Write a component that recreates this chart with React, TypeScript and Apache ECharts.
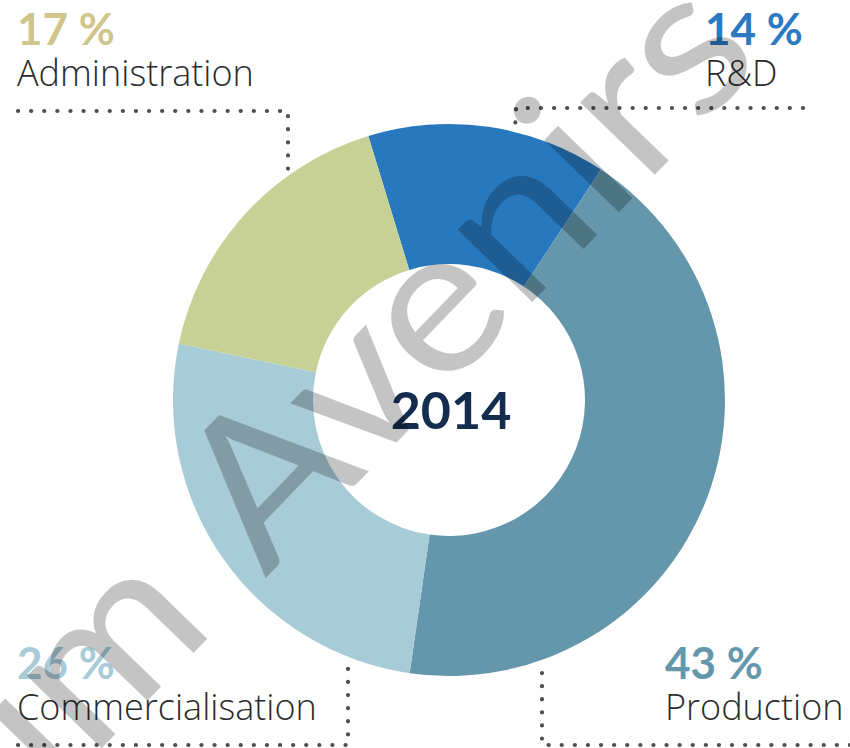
import React, { useEffect, useRef } from "react";
import * as echarts from "echarts";

// ---- data ----
const categories = ["R&D", "Production", "Commercialisation", "Administration"];
const shares = [14, 43, 26, 17];
const sliceColors = ["#2878be", "#6497ab", "#a8cbd8", "#c7d196"];
const labelColors = ["#2a79c1", "#6497ab", "#a8cbd8", "#d0c68c"];
const centerLabel = "2014";
const watermarkHead = "um";
const watermarkTail = "Avenirs e";

// ---- layout (styles/positions only) ----
// top: y of the top of the two-line label block, gap: line height of each line
const labelPos: Record<string, { x: number; top: number; gap: number }> = {
  "R&D": { x: 705, top: 5, gap: 45 },
  Production: { x: 665, top: 639, gap: 45 },
  Commercialisation: { x: 17, top: 639, gap: 45 },
  Administration: { x: 17, top: 5, gap: 45 },
};
const leaderLines: number[][][] = [
  [[18, 111], [288, 111], [288, 172]],
  [[803, 108], [516, 108], [515, 130]],
  [[18, 745], [348, 745], [348, 656]],
  [[850, 745], [542, 745], [542, 665]],
];

const FONT = "Lato, 'Open Sans', 'Noto Sans', sans-serif";
const NAME_FONT = "'Open Sans', Lato, 'Noto Sans', sans-serif";

export default function App() {
  const ref = useRef<HTMLDivElement>(null);
  useEffect(() => {
    if (!ref.current) return;
    const chart = echarts.init(ref.current, undefined, { renderer: "svg" });
    const graphics: any[] = [];
    leaderLines.forEach((pts) => {
      graphics.push({
        type: "polyline",
        shape: { points: pts },
        style: { stroke: "#505050", lineWidth: 4.2, lineDash: [0.1, 13], lineCap: "round", fill: null },
        z: 5,
      });
    });
    categories.forEach((c, i) => {
      const p = labelPos[c];
      graphics.push({
        type: "text",
        x: p.x,
        y: p.top,
        style: {
          text: `{p|${shares[i]} %}\n{n|${c}}`,
          textAlign: "left",
          textVerticalAlign: "top",
          rich: {
            p: {
              fill: labelColors[i],
              fontFamily: FONT,
              fontWeight: "bold",
              fontSize: 44,
              lineHeight: p.gap,
            },
            n: {
              fill: "#2b2b2b",
              fontFamily: NAME_FONT,
              fontWeight: 300,
              fontSize: 36,
              lineHeight: p.gap,
            },
          },
        },
        z: 5,
      });
    });
    graphics.push({
      type: "text",
      x: 451,
      y: 409,
      style: {
        text: centerLabel,
        fill: "#142d4f",
        fontFamily: FONT,
        fontWeight: "bold",
        fontSize: 52,
        textAlign: "center",
        textVerticalAlign: "middle",
      },
      z: 5,
    });
    const wmRot = (46 * Math.PI) / 180;
    const wmSize = 205;
    const wmStyle = {
      fill: "rgba(0,0,0,0.23)",
      fontFamily: FONT,
      fontSize: wmSize,
      textVerticalAlign: "middle",
    };
    graphics.push({
      type: "text",
      x: 252,
      y: 566,
      rotation: wmRot,
      scaleX: 1.08,
      style: { ...wmStyle, text: watermarkTail, x: 0, y: -0.3 * wmSize, textAlign: "left" },
      z: 50,
    });
    graphics.push({
      type: "text",
      x: 252,
      y: 566,
      rotation: wmRot,
      scaleX: 1.08,
      style: { ...wmStyle, text: watermarkHead, x: -64, y: -0.3 * wmSize, textAlign: "right" },
      z: 50,
    });

    chart.setOption({
      animation: false,
      backgroundColor: "#ffffff",
      series: [
        {
          type: "pie",
          center: [449, 400],
          radius: [136, 276],
          startAngle: 107,
          clockwise: true,
          silent: true,
          label: { show: false },
          labelLine: { show: false },
          itemStyle: { borderWidth: 0 },
          data: categories.map((c, i) => ({ name: c, value: shares[i], itemStyle: { color: sliceColors[i] } })),
          z: 2,
        },
      ],
      graphic: graphics,
    });
    return () => chart.dispose();
  }, []);
  return <div ref={ref} style={{ position: "fixed", left: 0, top: 0, width: 850, height: 748 }} />;
}
